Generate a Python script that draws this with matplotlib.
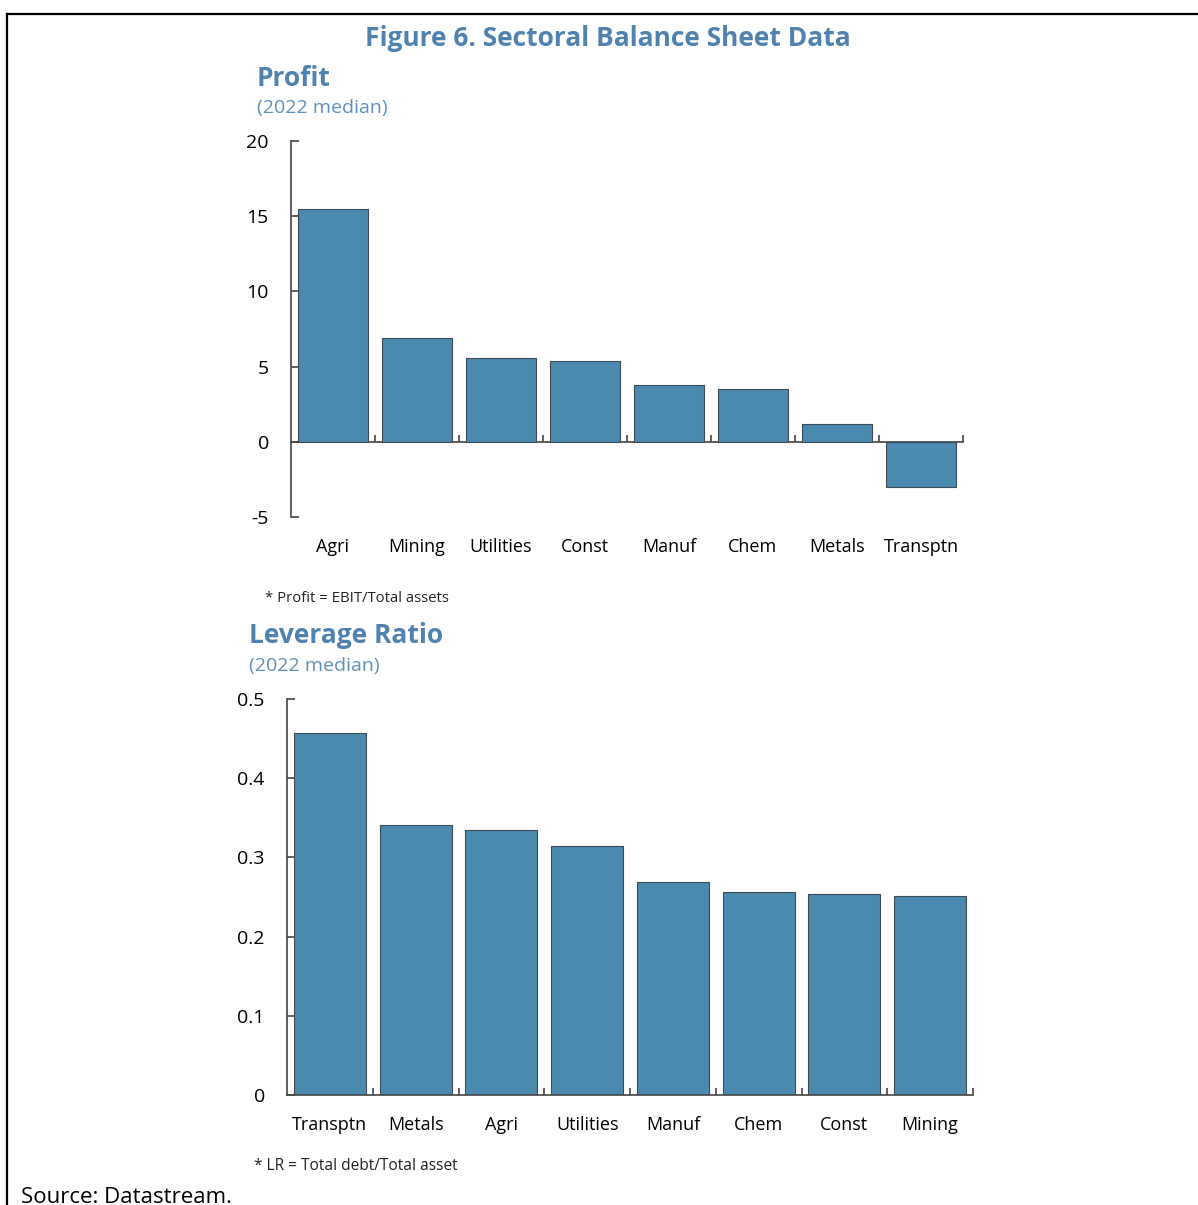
import matplotlib
matplotlib.use('Agg')
import matplotlib.pyplot as plt
from matplotlib.lines import Line2D
import numpy as np

plt.rcParams['font.family'] = ['Open Sans', 'DejaVu Sans']
plt.rcParams['axes.unicode_minus'] = False

#%% data
profit_sectors = ['Agri', 'Mining', 'Utilities', 'Const', 'Manuf', 'Chem', 'Metals', 'Transptn']
profit_values = [15.5, 6.9, 5.6, 5.4, 3.8, 3.5, 1.2, -3.0]

lr_sectors = ['Transptn', 'Metals', 'Agri', 'Utilities', 'Manuf', 'Chem', 'Const', 'Mining']
lr_values = [0.457, 0.341, 0.335, 0.314, 0.269, 0.256, 0.254, 0.251]

profit_ticks = [-5, 0, 5, 10, 15, 20]
profit_ticklabels = ['-5', '0', '5', '10', '15', '20']
lr_ticks = [0, 0.1, 0.2, 0.3, 0.4, 0.5]
lr_ticklabels = ['0', '0.1', '0.2', '0.3', '0.4', '0.5']

title_col = '#4f82ae'
sub_col = '#5f90bd'
bar_col = '#4a8aae'
edge_col = '#3b4a55'
axis_col = '#444444'

fig = plt.figure(figsize=(11.98, 12.05), dpi=100)


def style_axes(ax, n):
    for s in ['top', 'right']:
        ax.spines[s].set_visible(False)
    ax.spines['left'].set_color(axis_col)
    ax.spines['left'].set_linewidth(1.2)
    ax.set_xlim(-0.5, n - 0.5)
    ax.tick_params(axis='y', direction='in', length=6, width=1.2,
                   color=axis_col, labelsize=14, pad=16)
    ax.tick_params(axis='x', which='major', length=0, labelsize=13, pad=15)


#%% Profit
ax1 = fig.add_axes([0.2429, 0.5710, 0.5609, 0.3120])
x1 = np.arange(len(profit_sectors))
ax1.bar(x1, profit_values, width=0.83, color=bar_col, edgecolor=edge_col, linewidth=0.8)
ax1.set_ylim(-5, 20)
ax1.set_yticks(profit_ticks)
ax1.set_yticklabels(profit_ticklabels)
ax1.set_xticks(x1)
ax1.set_xticklabels(profit_sectors)
style_axes(ax1, len(profit_sectors))
ax1.spines['bottom'].set_visible(False)

# zero line with small separator ticks
zero_ax = ax1.secondary_xaxis(0, transform=ax1.transData)
zero_ax.spines['bottom'].set_color(axis_col)
zero_ax.spines['bottom'].set_linewidth(1.2)
zero_ax.set_xticks(np.arange(len(profit_sectors)) + 0.5)
zero_ax.set_xticklabels([])
zero_ax.tick_params(direction='in', length=5, width=1.2, color=axis_col)

#%% Leverage ratio
ax2 = fig.add_axes([0.2396, 0.0913, 0.5726, 0.3286])
x2 = np.arange(len(lr_sectors))
ax2.bar(x2, lr_values, width=0.84, color=bar_col, edgecolor=edge_col, linewidth=0.8)
ax2.set_ylim(0, 0.5)
ax2.set_yticks(lr_ticks)
ax2.set_yticklabels(lr_ticklabels)
ax2.set_xticks(x2)
ax2.set_xticklabels(lr_sectors)
style_axes(ax2, len(lr_sectors))
ax2.spines['bottom'].set_color(axis_col)
ax2.spines['bottom'].set_linewidth(1.2)
ax2.set_xticks(x2 + 0.5, minor=True)
ax2.tick_params(axis='x', which='minor', direction='in', length=5, width=1.2, color=axis_col)

#%% text
fig.text(0.507, 0.968, 'Figure 6. Sectoral Balance Sheet Data', ha='center', va='center',
         fontsize=19, fontweight='bold', color=title_col)
fig.text(0.2145, 0.935, 'Profit', ha='left', va='center', fontsize=19,
         fontweight='bold', color=title_col)
fig.text(0.2145, 0.910, '(2022 median)', ha='left', va='center', fontsize=14, color=sub_col)
fig.text(0.221, 0.5035, '* Profit = EBIT/Total assets', ha='left', va='center',
         fontsize=10.7, color='#222222')
fig.text(0.2078, 0.4730, 'Leverage Ratio', ha='left', va='center', fontsize=19,
         fontweight='bold', color=title_col)
fig.text(0.2078, 0.4475, '(2022 median)', ha='left', va='center', fontsize=14, color=sub_col)
fig.text(0.212, 0.0325, '* LR = Total debt/Total asset', ha='left', va='center',
         fontsize=11.2, color='#222222')
fig.text(0.0175, 0.006, 'Source: Datastream.', ha='left', va='center', fontsize=16,
         color='black')

# page frame
fig.add_artist(Line2D([0.006, 1.0], [0.9884, 0.9884], transform=fig.transFigure,
                      color='black', linewidth=1.6))
fig.add_artist(Line2D([0.006, 0.006], [0.0, 0.9884], transform=fig.transFigure,
                      color='black', linewidth=1.6))

fig.savefig('out.png', dpi=100)
